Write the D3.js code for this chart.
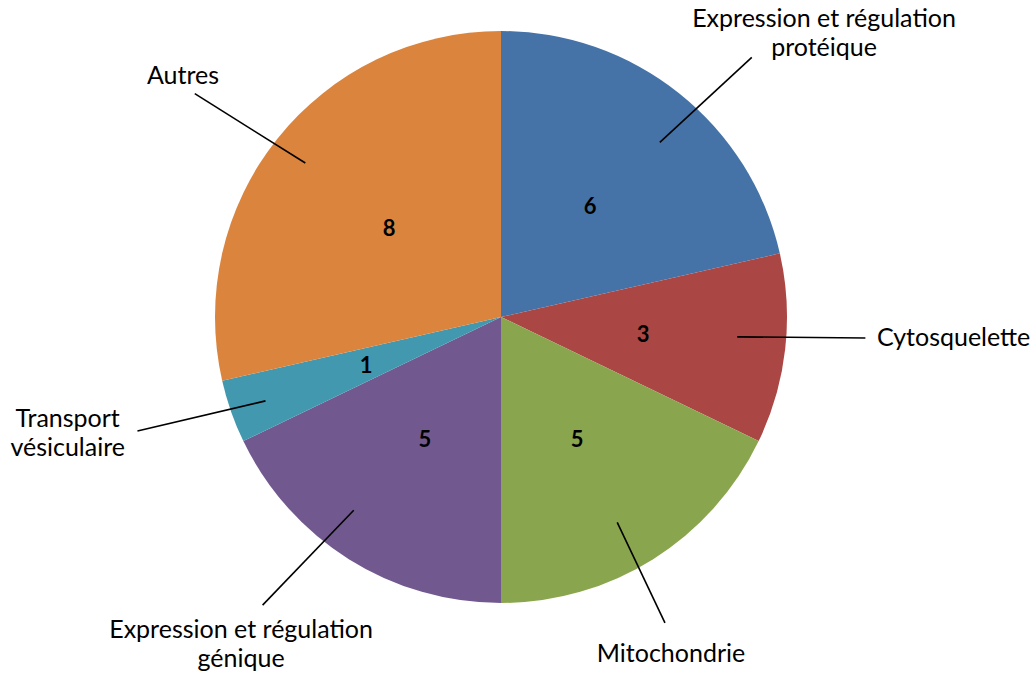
<!DOCTYPE html>
<html>
<head>
<meta charset="utf-8">
<script src="https://cdn.jsdelivr.net/npm/d3@7"></script>
<style>
  html, body { margin: 0; padding: 0; background: #ffffff; }
  svg { display: block; }
</style>
</head>
<body>
<svg id="chart" width="1034" height="673"></svg>
<script>
// Répartition des protéines par catégorie fonctionnelle
const categories = [
  "Expression et régulation protéique",
  "Cytosquelette",
  "Mitochondrie",
  "Expression et régulation génique",
  "Transport vésiculaire",
  "Autres"
];
const counts = [6, 3, 5, 5, 1, 8];
const labelLines = [
  ["Expression et régulation", "protéique"],
  ["Cytosquelette"],
  ["Mitochondrie"],
  ["Expression et régulation", "génique"],
  ["Transport", "vésiculaire"],
  ["Autres"]
];
const palette = ["#4572A7", "#AA4643", "#89A54E", "#71588F", "#4198AF", "#DB843D"];

// Geometry
const width = 1034, height = 673;
const cx = 501, cy = 317, radius = 286;
const labelFont = "Lato, 'Open Sans', sans-serif";

// Callout placement, polar: [degrees clockwise from 12 o'clock, distance from centre]
const callouts = [
  { from: [42.3, 236], to: [44.0, 361], text: [48.1, 434], anchor: "middle" },
  { from: [94.8, 237], to: [93.3, 365], text: [94.4, 377], anchor: "start" },
  { from: [150.5, 236], to: [151.8, 347], text: [153.8, 385], anchor: "middle" },
  { from: [217.3, 243], to: [219.6, 374], text: [219.0, 413], anchor: "middle" },
  { from: [250.4, 250], to: [252.6, 381], text: [255.8, 447], anchor: "middle" },
  { from: [308.2, 249], to: [306.1, 379], text: [306.2, 394], anchor: "middle" }
];
const lineHeight = 29;

const polar = ([deg, r]) => {
  const a = deg * Math.PI / 180;
  return [r * Math.sin(a), -r * Math.cos(a)];
};

const svg = d3.select("#chart");
const g = svg.append("g").attr("transform", `translate(${cx},${cy})`);

const color = d3.scaleOrdinal().domain(categories).range(palette);

const pie = d3.pie().sort(null).value(d => d.value);
const arcs = pie(categories.map((c, i) => ({ category: c, value: counts[i], lines: labelLines[i] })));

const arc = d3.arc().innerRadius(0).outerRadius(radius);

// Slices
g.selectAll("path.slice")
  .data(arcs)
  .join("path")
  .attr("class", "slice")
  .attr("d", arc)
  .attr("fill", d => color(d.data.category));

// Values inside the slices
g.selectAll("text.value")
  .data(arcs)
  .join("text")
  .attr("class", "value")
  .attr("transform", d => `translate(${arc.centroid(d)})`)
  .attr("text-anchor", "middle")
  .attr("dominant-baseline", "central")
  .style("font-family", labelFont)
  .style("font-weight", "bold")
  .style("font-size", "22px")
  .attr("fill", "#000")
  .text(d => d.data.value);

// Leader lines
g.selectAll("line.leader")
  .data(arcs)
  .join("line")
  .attr("class", "leader")
  .each(function (d, i) {
    const [x1, y1] = polar(callouts[i].from);
    const [x2, y2] = polar(callouts[i].to);
    d3.select(this).attr("x1", x1).attr("y1", y1).attr("x2", x2).attr("y2", y2);
  })
  .attr("stroke", "#000")
  .attr("stroke-width", 1.6);

// Category labels
const labels = g.selectAll("text.category")
  .data(arcs)
  .join("text")
  .attr("class", "category")
  .attr("transform", (d, i) => `translate(${polar(callouts[i].text)})`)
  .attr("text-anchor", (d, i) => callouts[i].anchor)
  .style("font-family", labelFont)
  .style("font-size", "25px")
  .attr("fill", "#000");

labels.selectAll("tspan")
  .data(d => d.data.lines)
  .join("tspan")
  .attr("x", 0)
  .attr("dy", (d, j) => j === 0 ? 0 : lineHeight)
  .text(d => d);
</script>
</body>
</html>
